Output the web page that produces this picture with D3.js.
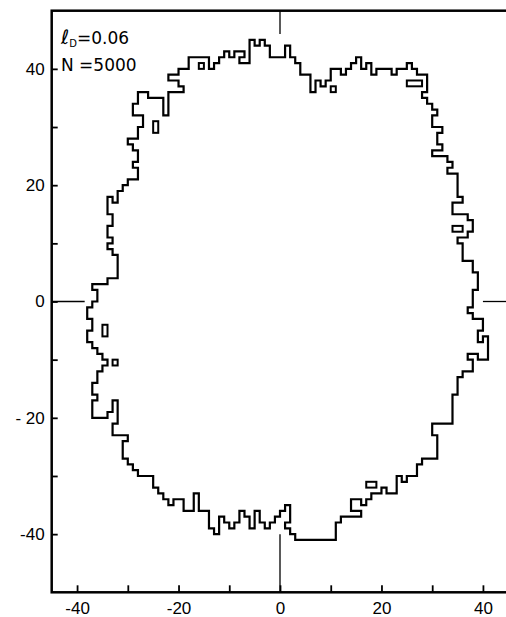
<!DOCTYPE html>
<html>
<head>
<meta charset="utf-8">
<script src="https://cdn.jsdelivr.net/npm/d3@7"></script>
<style>
  html, body { margin: 0; padding: 0; background: #fff; }
  svg { display: block; }
</style>
</head>
<body>
<div id="chart"></div>
<script>
// axis ticks and labels
const xTickValues = [-40, -30, -20, -10, 0, 10, 20, 30, 40];
const yTickValues = [-40, -30, -20, -10, 0, 10, 20, 30, 40];
const xLabelValues = [-40, -20, 0, 20, 40];
const xLabelText = ["-40", "-20", "0", "20", "40"];
const yLabelValues = [-40, -20, 0, 20, 40];
const yLabelText = ["-40", "- 20", "0", "20", "40"];

// cluster perimeter on the square lattice, traced clockwise (lattice units)
const boundary = [
  [-28,21],[-28,23],[-29,23],[-29,24],[-28,24],[-28,26],[-29,26],[-29,27],[-30,27],[-30,28],
  [-28,28],[-28,30],[-27,30],[-27,32],[-29,32],[-29,34],[-28,34],[-28,36],[-26,36],[-26,35],
  [-23,35],[-23,32],[-22,32],[-22,36],[-19,36],[-19,37],[-20,37],[-20,38],[-22,38],[-22,39],
  [-20,39],[-20,40],[-18,40],[-18,42],[-14,42],[-14,40],[-13,40],[-13,41],[-12,41],[-12,42],
  [-11,42],[-11,43],[-10,43],[-10,42],[-9,42],[-9,43],[-7,43],[-7,42],[-8,42],[-8,41],
  [-6,41],[-6,45],[-5,45],[-5,44],[-4,44],[-4,45],[-3,45],[-3,44],[-2,44],[-2,42],
  [1,42],[1,44],[2,44],[2,42],[3,42],[3,41],[4,41],[4,39],[6,39],[6,36],
  [7,36],[7,38],[8,38],[8,37],[9,37],[9,38],[10,38],[10,40],[12,40],[12,39],
  [13,39],[13,40],[14,40],[14,41],[15,41],[15,42],[16,42],[16,40],[17,40],[17,41],
  [18,41],[18,39],[19,39],[19,40],[22,40],[22,39],[23,39],[23,40],[25,40],[25,41],
  [26,41],[26,40],[27,40],[27,39],[29,39],[29,36],[28,36],[28,35],[29,35],[29,34],
  [30,34],[30,33],[31,33],[31,32],[30,32],[30,30],[32,30],[32,29],[31,29],[31,27],
  [32,27],[32,26],[30,26],[30,25],[33,25],[33,24],[34,24],[34,23],[33,23],[33,22],
  [35,22],[35,18],[36,18],[36,17],[34,17],[34,15],[37,15],[37,14],[38,14],[38,12],
  [37,12],[37,11],[35,11],[35,10],[36,10],[36,7],[38,7],[38,5],[39,5],[39,2],
  [38,2],[38,-1],[37,-1],[37,-2],[38,-2],[38,-3],[40,-3],[40,-5],[39,-5],[39,-7],
  [40,-7],[40,-6],[41,-6],[41,-10],[39,-10],[39,-9],[37,-9],[37,-10],[38,-10],[38,-12],
  [36,-12],[36,-13],[35,-13],[35,-16],[34,-16],[34,-21],[30,-21],[30,-23],[31,-23],[31,-27],
  [28,-27],[28,-28],[27,-28],[27,-30],[25,-30],[25,-31],[24,-31],[24,-30],[23,-30],[23,-33],
  [21,-33],[21,-32],[20,-32],[20,-33],[18,-33],[18,-34],[17,-34],[17,-35],[16,-35],[16,-34],
  [14,-34],[14,-36],[16,-36],[16,-37],[12,-37],[12,-38],[11,-38],[11,-41],[3,-41],[3,-40],
  [2,-40],[2,-39],[1,-39],[1,-38],[2,-38],[2,-35],[1,-35],[1,-36],[0,-36],[0,-37],
  [-1,-37],[-1,-38],[-2,-38],[-2,-39],[-3,-39],[-3,-38],[-4,-38],[-4,-36],[-5,-36],[-5,-39],
  [-6,-39],[-6,-37],[-7,-37],[-7,-36],[-8,-36],[-8,-38],[-9,-38],[-9,-39],[-10,-39],[-10,-38],
  [-11,-38],[-11,-37],[-12,-37],[-12,-40],[-13,-40],[-13,-39],[-14,-39],[-14,-36],[-16,-36],[-16,-33],
  [-17,-33],[-17,-36],[-19,-36],[-19,-34],[-21,-34],[-21,-35],[-22,-35],[-22,-34],[-23,-34],[-23,-33],
  [-24,-33],[-24,-32],[-25,-32],[-25,-30],[-28,-30],[-28,-29],[-29,-29],[-29,-28],[-30,-28],[-30,-27],
  [-31,-27],[-31,-24],[-30,-24],[-30,-23],[-33,-23],[-33,-21],[-32,-21],[-32,-17],[-33,-17],[-33,-19],
  [-34,-19],[-34,-20],[-37,-20],[-37,-17],[-36,-17],[-36,-16],[-37,-16],[-37,-14],[-36,-14],[-36,-12],
  [-35,-12],[-35,-11],[-34,-11],[-34,-10],[-35,-10],[-35,-9],[-36,-9],[-36,-8],[-37,-8],[-37,-7],
  [-38,-7],[-38,-5],[-37,-5],[-37,-3],[-38,-3],[-38,-1],[-37,-1],[-37,0],[-36,0],[-36,2],
  [-37,2],[-37,3],[-34,3],[-34,4],[-32,4],[-32,8],[-33,8],[-33,9],[-34,9],[-34,10],
  [-33,10],[-33,11],[-34,11],[-34,13],[-33,13],[-33,15],[-34,15],[-34,18],[-33,18],[-33,17],
  [-32,17],[-32,19],[-31,19],[-31,20],[-30,20],[-30,21]
];

// enclosed empty sites (holes): [x0, y0, x1, y1]
const holes = [
  [-16, 40, -15, 41],
  [10, 36, 11, 37],
  [25, 37, 28, 38],
  [34, 12, 36, 13],
  [17, -32, 19, -31],
  [-25, 29, -24, 31],
  [-35, -6, -34, -4],
  [-33, -11, -32, -10]
];

// short marks on the x = 0 and y = 0 lines
const crossMarks = [
  [[0, 50], [0, 46]],
  [[0, -50], [0, -40]],
  [[-45, 0], [-38.5, 0]],
  [[40, 0], [45, 0]]
];

const width = 506;
const height = 617;
const marginTop = 10.7;
const marginBottom = 24.7;
const marginLeft = 51.7;
const marginRight = -2.3; // right frame edge falls just outside the picture

const x = d3.scaleLinear()
  .domain([-45, 45])
  .range([marginLeft, width - marginRight]);

const y = d3.scaleLinear()
  .domain([-50, 50])
  .range([height - marginBottom, marginTop]);

const svg = d3.select("#chart")
  .append("svg")
  .attr("width", width)
  .attr("height", height)
  .attr("viewBox", [0, 0, width, height])
  .style("font-family", "'DejaVu Sans', sans-serif");

// frame
svg.append("rect")
  .attr("x", x(-45))
  .attr("y", y(50))
  .attr("width", x(45) - x(-45))
  .attr("height", y(-50) - y(50))
  .attr("fill", "none")
  .attr("stroke", "#000")
  .attr("stroke-width", 2.5);

// x axis
const xLab = new Map(xLabelValues.map((v, i) => [v, xLabelText[i]]));
const gx = svg.append("g")
  .attr("transform", `translate(0,${y(-50)})`)
  .call(d3.axisBottom(x)
    .tickValues(xTickValues)
    .tickSize(-7)
    .tickPadding(10)
    .tickFormat(d => xLab.get(d) || ""));
gx.select(".domain").remove();
gx.selectAll(".tick line").attr("stroke", "#000").attr("stroke-width", 1.8);
gx.selectAll(".tick text").attr("fill", "#000").attr("font-size", 17);

// y axis
const yLab = new Map(yLabelValues.map((v, i) => [v, yLabelText[i]]));
const gy = svg.append("g")
  .attr("transform", `translate(${x(-45)},0)`)
  .call(d3.axisLeft(y)
    .tickValues(yTickValues)
    .tickSize(-6)
    .tickPadding(7)
    .tickFormat(d => yLab.get(d) || ""));
gy.select(".domain").remove();
gy.selectAll(".tick line").attr("stroke", "#000").attr("stroke-width", 1.8);
gy.selectAll(".tick text").attr("fill", "#000").attr("font-size", 17);

// cross marks
svg.append("g")
  .selectAll("line")
  .data(crossMarks)
  .join("line")
  .attr("x1", d => x(d[0][0]))
  .attr("y1", d => y(d[0][1]))
  .attr("x2", d => x(d[1][0]))
  .attr("y2", d => y(d[1][1]))
  .attr("stroke", "#000")
  .attr("stroke-width", 1.3);

// cluster outline
const line = d3.line()
  .x(d => x(d[0]))
  .y(d => y(d[1]));

svg.append("path")
  .attr("d", line(boundary) + "Z")
  .attr("fill", "none")
  .attr("stroke", "#000")
  .attr("stroke-width", 2.2)
  .attr("stroke-linejoin", "miter");

// holes
svg.append("g")
  .selectAll("rect")
  .data(holes)
  .join("rect")
  .attr("x", d => x(d[0]))
  .attr("y", d => y(d[3]))
  .attr("width", d => x(d[2]) - x(d[0]))
  .attr("height", d => y(d[1]) - y(d[3]))
  .attr("fill", "none")
  .attr("stroke", "#000")
  .attr("stroke-width", 2);

// parameter labels
const lab = svg.append("g").attr("fill", "#000").attr("font-size", 17);

const t1 = lab.append("text")
  .attr("x", 61)
  .attr("y", 43.5);
t1.append("tspan").attr("font-style", "italic").attr("font-size", 20).text("ℓ");
t1.append("tspan").attr("font-size", 10).attr("dy", 3).text("D");
t1.append("tspan").attr("dy", -3).text("=0.06");

lab.append("text")
  .attr("x", 61)
  .attr("y", 71)
  .text("N =5000");
</script>
</body>
</html>
